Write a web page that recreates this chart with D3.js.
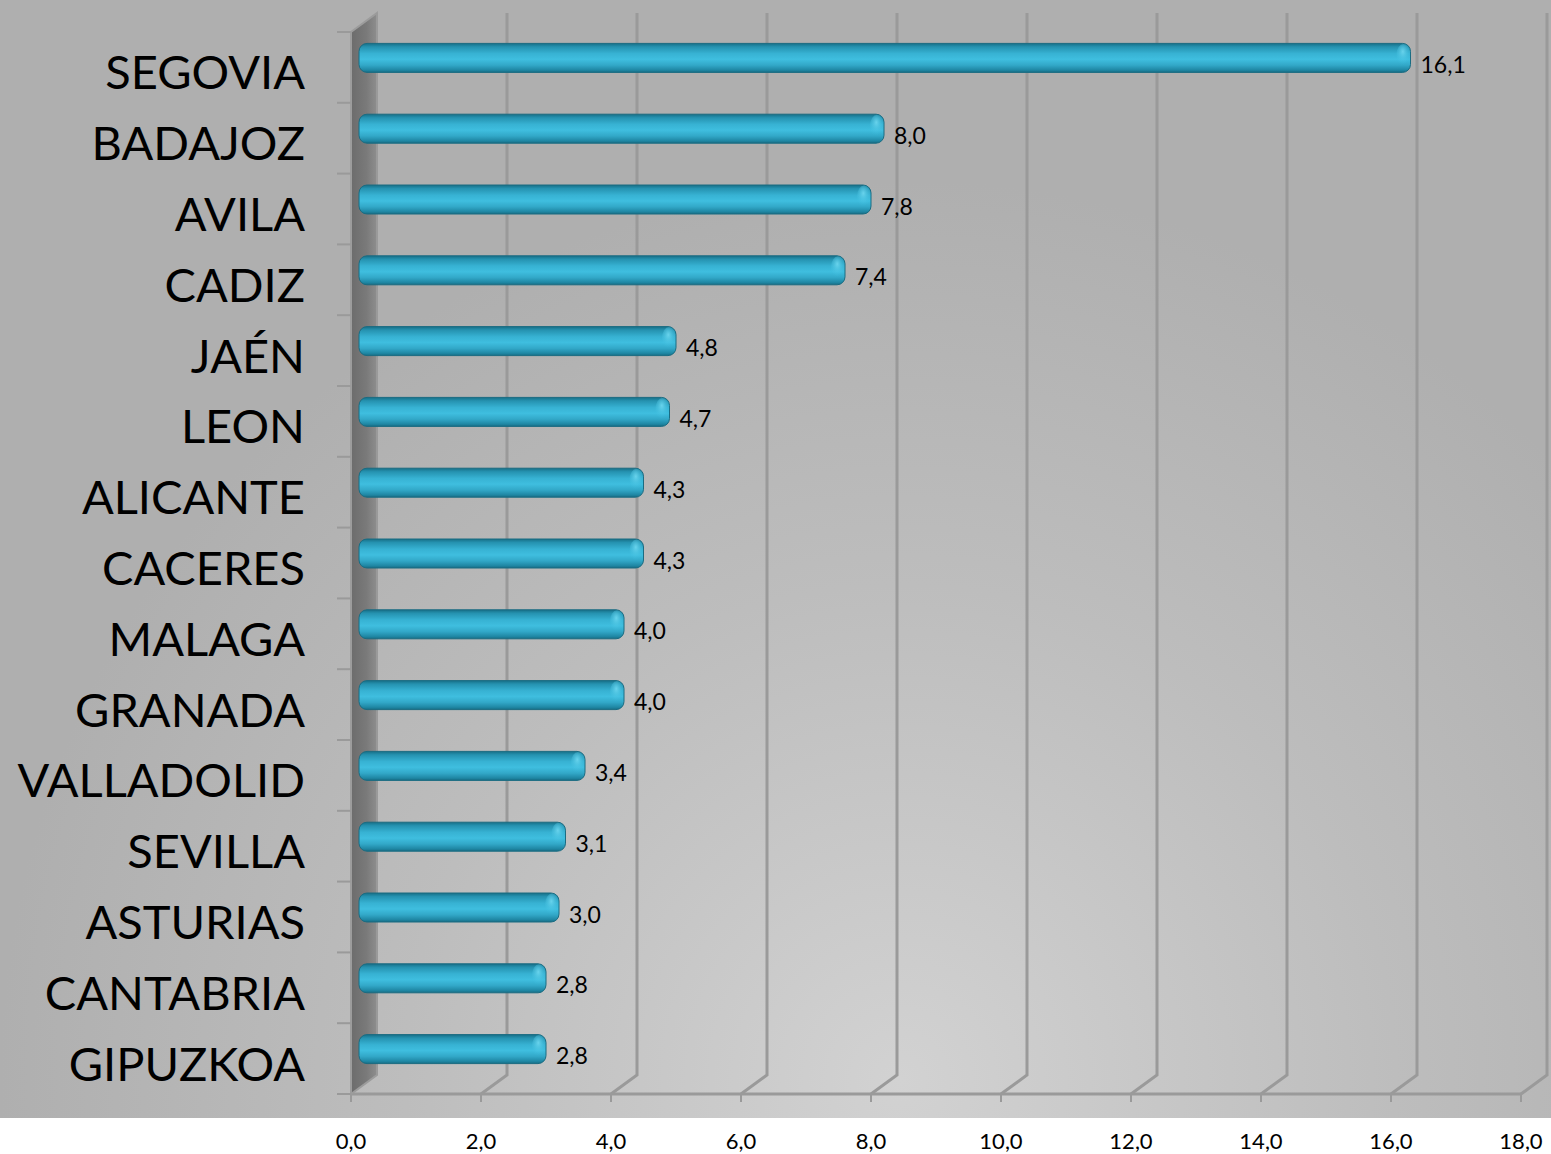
<!DOCTYPE html>
<html><head><meta charset="utf-8">
<script src="https://cdn.jsdelivr.net/npm/d3@7"></script>
<style>html,body{margin:0;padding:0;background:#fff;}svg{display:block;}</style>
</head><body>
<svg id="chart" width="1551" height="1154"></svg>
<script>
const categories = ["SEGOVIA","BADAJOZ","AVILA","CADIZ","JAÉN","LEON","ALICANTE","CACERES","MALAGA","GRANADA","VALLADOLID","SEVILLA","ASTURIAS","CANTABRIA","GIPUZKOA"];
const values = [16.1,8.0,7.8,7.4,4.8,4.7,4.3,4.3,4.0,4.0,3.4,3.1,3.0,2.8,2.8];
const tickValues = [0,2,4,6,8,10,12,14,16,18];
const tickLabels = ["0,0","2,0","4,0","6,0","8,0","10,0","12,0","14,0","16,0","18,0"];
const valueLabels = ["16,1","8,0","7,8","7,4","4,8","4,7","4,3","4,3","4,0","4,0","3,4","3,1","3,0","2,8","2,8"];

(function(){
const W = 1551, H = 1154;
const svg = d3.select("#chart");
const font = "Lato, 'Open Sans', sans-serif";
const defs = svg.append("defs");

// geometry
const pl = 351, pr = 1521, pt = 32, pb = 1094;
const dx = 26, dy = -19;
const x = d3.scaleLinear().domain([0,18]).range([pl,pr]);
const y = d3.scaleBand().domain(categories).range([pt,pb]).paddingInner(0).paddingOuter(0);

// background
const bg = defs.append("radialGradient").attr("id","bg").attr("gradientUnits","userSpaceOnUse")
  .attr("cx",900).attr("cy",1080).attr("r",900);
bg.append("stop").attr("offset","0%").attr("stop-color","#d2d2d2");
bg.append("stop").attr("offset","55%").attr("stop-color","#bdbdbd");
bg.append("stop").attr("offset","100%").attr("stop-color","#afafaf");
svg.append("rect").attr("x",0).attr("y",0).attr("width",W).attr("height",1118).attr("fill","url(#bg)");

// gridlines (back wall + floor diagonal)
const gridColor = "#9a9a9a";
const grid = svg.append("g");
tickValues.filter(v => v > 0).forEach(v => {
  grid.append("path")
    .attr("d", `M${x(v)+dx},${pt+dy} L${x(v)+dx},${pb+dy} L${x(v)},${pb}`)
    .attr("fill","none").attr("stroke",gridColor).attr("stroke-width",3);
});

// floor front baseline & ticks
grid.append("line").attr("x1",x(0)).attr("x2",x(18)).attr("y1",pb).attr("y2",pb)
  .attr("stroke",gridColor).attr("stroke-width",3);
tickValues.forEach(v => {
  grid.append("line").attr("x1",x(v)).attr("x2",x(v)).attr("y1",pb).attr("y2",pb+8)
    .attr("stroke",gridColor).attr("stroke-width",2);
});

// left wall
const wallG = defs.append("linearGradient").attr("id","wall").attr("x1","0").attr("x2","1").attr("y1","0").attr("y2","0");
wallG.append("stop").attr("offset","0%").attr("stop-color","#6c6c6c");
wallG.append("stop").attr("offset","60%").attr("stop-color","#7a7a7a");
wallG.append("stop").attr("offset","100%").attr("stop-color","#8e8e8e");
svg.append("path")
  .attr("d", `M${x(0)},${pt} L${x(0)+dx},${pt+dy} L${x(0)+dx},${pb+dy} L${x(0)},${pb} Z`)
  .attr("fill","url(#wall)").attr("stroke","#9c9c9c").attr("stroke-width",2);
svg.append("line").attr("x1",x(0)+dx).attr("x2",x(0)+dx).attr("y1",pt+dy).attr("y2",pb+dy)
  .attr("stroke","#9a9a9a").attr("stroke-width",2);

// category ticks
d3.range(categories.length+1).map(i => pt + i*y.step()).forEach(t => {
  svg.append("line").attr("x1",x(0)-14).attr("x2",x(0)).attr("y1",t).attr("y2",t)
    .attr("stroke",gridColor).attr("stroke-width",2);
});

// bar gradient
const barG = defs.append("linearGradient").attr("id","bar").attr("x1","0").attr("x2","0").attr("y1","0").attr("y2","1");
[["0%","#176f87"],["12%","#2592b0"],["35%","#37b2d3"],["55%","#3fbedf"],["75%","#32a8c8"],["92%","#1f87a4"],["100%","#176d84"]]
  .forEach(([o,c]) => barG.append("stop").attr("offset",o).attr("stop-color",c));
const capG = defs.append("radialGradient").attr("id","cap").attr("cx","0.45").attr("cy","0.35").attr("r","0.6");
capG.append("stop").attr("offset","0%").attr("stop-color","#6fd8f0").attr("stop-opacity",0.9);
capG.append("stop").attr("offset","100%").attr("stop-color","#3fbedf").attr("stop-opacity",0);

const barH = 29;
const bars = svg.append("g");
categories.forEach((c,i) => {
  const cy = y(c) + y.bandwidth()/2 + dy/2;
  const x0 = x(0) + dx/2 - 5;
  const x1 = x(values[i]) + dx/2;
  bars.append("rect").attr("x",x0).attr("y",cy-barH/2).attr("width",x1-x0).attr("height",barH)
    .attr("rx",8).attr("ry",8).attr("fill","url(#bar)").attr("stroke","#1a6c82").attr("stroke-width",1);
  bars.append("ellipse").attr("cx",x1-7).attr("cy",cy-3).attr("rx",7).attr("ry",11).attr("fill","url(#cap)");
  svg.append("text").attr("x",x1+10).attr("y",cy+6).attr("dominant-baseline","central")
    .attr("font-family",font).attr("font-size",23).attr("fill","#000").text(valueLabels[i]);
});

// category labels
categories.forEach(c => {
  svg.append("text").attr("x",305).attr("y",y(c)+y.bandwidth()/2+4).attr("text-anchor","end")
    .attr("dominant-baseline","central").attr("font-family",font).attr("font-size",47).attr("fill","#000").text(c);
});

// x tick labels
tickValues.forEach((v,i) => {
  svg.append("text").attr("x",x(v)).attr("y",1140).attr("text-anchor","middle").attr("dominant-baseline","central")
    .attr("font-family",font).attr("font-size",22).attr("fill","#000").text(tickLabels[i]);
});
})();
</script>
</body></html>
